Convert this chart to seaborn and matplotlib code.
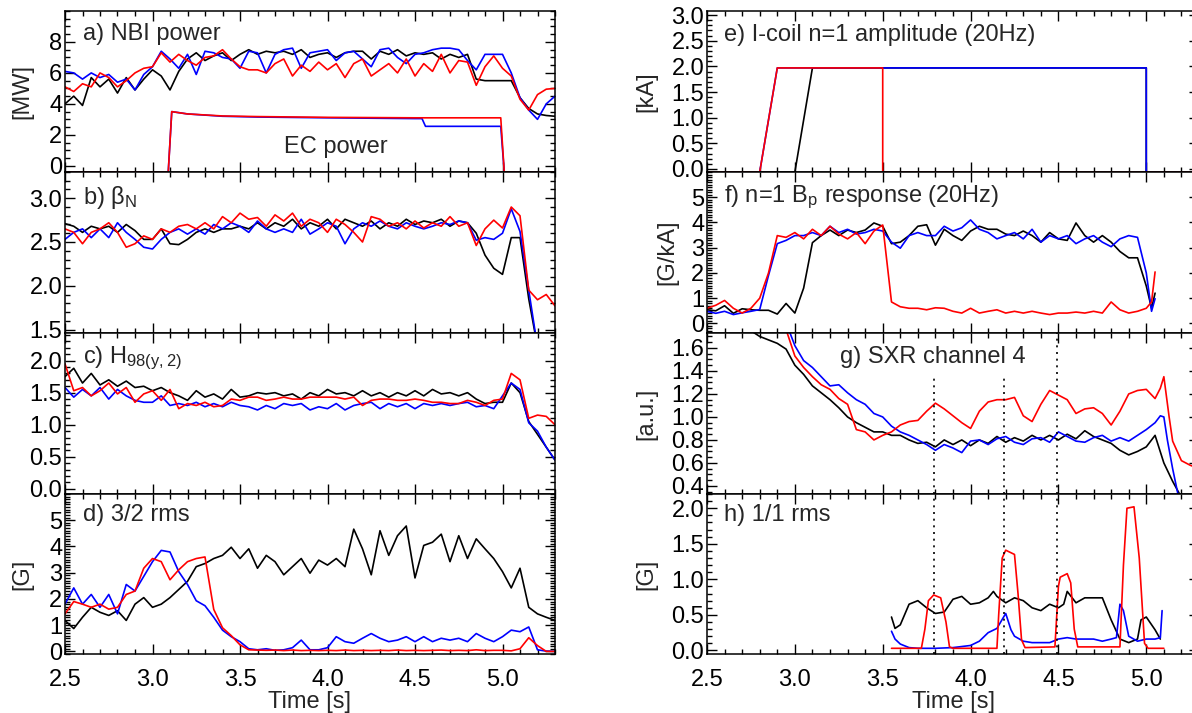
import matplotlib
matplotlib.use('Agg')
import matplotlib.pyplot as plt
from matplotlib.ticker import MultipleLocator, FixedLocator
import seaborn as sns

# ---------------- data ----------------
# common 0.05 s time base
T = [2.50, 2.55, 2.60, 2.65, 2.70, 2.75, 2.80, 2.85, 2.90, 2.95,
     3.00, 3.05, 3.10, 3.15, 3.20, 3.25, 3.30, 3.35, 3.40, 3.45,
     3.50, 3.55, 3.60, 3.65, 3.70, 3.75, 3.80, 3.85, 3.90, 3.95,
     4.00, 4.05, 4.10, 4.15, 4.20, 4.25, 4.30, 4.35, 4.40, 4.45,
     4.50, 4.55, 4.60, 4.65, 4.70, 4.75, 4.80, 4.85, 4.90, 4.95,
     5.00, 5.05, 5.10, 5.15, 5.20, 5.25, 5.30]

# a) NBI power [MW]
nbi_black = [4.0, 4.5, 3.9, 5.7, 5.1, 5.6, 4.7, 5.7, 4.9, 5.6,
             6.2, 5.8, 4.9, 6.1, 6.9, 7.3, 6.8, 7.1, 7.3, 6.8,
             7.2, 7.5, 7.2, 7.4, 7.3, 7.4, 7.2, 7.5, 7.0, 7.2,
             7.3, 7.0, 7.3, 7.4, 7.4, 6.9, 7.4, 7.2, 7.5, 7.1,
             7.3, 7.2, 7.3, 6.9, 7.2, 7.0, 7.2, 5.6, 5.5, 5.5,
             5.5, 5.5, 4.4, 3.7, 3.35, 3.25, 3.2]
nbi_blue = [6.1, 6.0, 5.6, 6.0, 5.7, 5.9, 5.4, 5.6, 4.9, 5.9,
            6.4, 7.4, 6.9, 6.3, 7.2, 5.9, 7.4, 7.3, 7.0, 6.9,
            6.3, 7.4, 7.3, 6.0, 7.2, 7.5, 7.6, 6.3, 7.3, 7.4,
            7.5, 6.8, 7.3, 7.4, 6.9, 6.4, 7.5, 7.6, 7.0, 6.6,
            7.2, 7.3, 7.5, 7.6, 7.6, 7.5, 6.8, 6.2, 7.2, 7.2,
            7.2, 6.0, 4.4, 3.6, 3.0, 4.0, 4.5]
nbi_red = [5.1, 4.8, 5.3, 5.1, 6.0, 5.7, 5.1, 5.5, 6.0, 6.3,
           6.4, 7.3, 6.7, 7.2, 6.8, 6.5, 7.0, 7.1, 7.5, 6.9,
           6.4, 6.2, 6.2, 6.0, 6.6, 6.9, 5.8, 6.5, 6.1, 6.7,
           6.2, 6.6, 5.7, 6.6, 6.9, 5.8, 6.2, 6.6, 6.0, 6.9,
           5.8, 6.6, 6.1, 7.2, 6.0, 6.8, 6.7, 5.2, 6.4, 7.1,
           6.3, 5.8, 4.3, 3.6, 4.6, 4.95, 5.0]

# EC power [MW] (off level sits on the bottom of the axis)
ec_red_t = [2.5, 3.09, 3.11, 3.2, 3.4, 3.6, 4.0, 4.5, 4.99, 5.01, 5.3]
ec_red = [-0.4, -0.4, 3.5, 3.35, 3.22, 3.18, 3.13, 3.1, 3.1, -0.4, -0.4]
ec_blue_t = [2.5, 3.09, 3.11, 3.2, 3.4, 3.6, 4.0, 4.5, 4.54, 4.56, 4.99, 5.01, 5.3]
ec_blue = [-0.4, -0.4, 3.5, 3.35, 3.2, 3.15, 3.1, 3.05, 3.05, 2.55, 2.55, -0.4, -0.4]

# b) beta_N
beta_black = [2.71, 2.68, 2.61, 2.68, 2.65, 2.68, 2.61, 2.70, 2.63, 2.53,
              2.53, 2.65, 2.48, 2.47, 2.53, 2.61, 2.65, 2.61, 2.65, 2.65,
              2.68, 2.65, 2.72, 2.65, 2.72, 2.68, 2.76, 2.65, 2.72, 2.68,
              2.76, 2.65, 2.76, 2.72, 2.68, 2.74, 2.65, 2.72, 2.68, 2.76,
              2.70, 2.74, 2.72, 2.76, 2.68, 2.74, 2.72, 2.60, 2.35, 2.20,
              2.13, 2.55, 2.55, 1.85, 1.30, 1.00, 0.80]
beta_blue = [2.53, 2.61, 2.65, 2.55, 2.65, 2.55, 2.72, 2.61, 2.53, 2.44,
             2.42, 2.53, 2.61, 2.65, 2.59, 2.65, 2.59, 2.70, 2.65, 2.72,
             2.68, 2.61, 2.74, 2.65, 2.61, 2.65, 2.61, 2.76, 2.59, 2.65,
             2.72, 2.68, 2.48, 2.65, 2.72, 2.68, 2.74, 2.68, 2.65, 2.72,
             2.68, 2.65, 2.68, 2.72, 2.70, 2.74, 2.72, 2.52, 2.55, 2.53,
             2.60, 2.88, 2.62, 1.95, 1.30, 1.00, 0.80]
beta_red = [2.65, 2.61, 2.48, 2.61, 2.65, 2.72, 2.61, 2.44, 2.48, 2.57,
            2.53, 2.65, 2.61, 2.68, 2.70, 2.65, 2.72, 2.65, 2.79, 2.72,
            2.83, 2.76, 2.78, 2.68, 2.81, 2.74, 2.83, 2.68, 2.76, 2.72,
            2.61, 2.76, 2.70, 2.61, 2.50, 2.79, 2.76, 2.68, 2.72, 2.65,
            2.74, 2.66, 2.72, 2.68, 2.79, 2.68, 2.72, 2.46, 2.65, 2.75,
            2.66, 2.90, 2.80, 1.95, 1.84, 1.90, 1.77]

# c) H98(y,2)
h98_black = [1.75, 1.88, 1.65, 1.80, 1.62, 1.70, 1.60, 1.68, 1.58, 1.60,
             1.53, 1.58, 1.50, 1.45, 1.38, 1.53, 1.43, 1.48, 1.40, 1.55,
             1.43, 1.45, 1.50, 1.48, 1.50, 1.45, 1.48, 1.40, 1.50, 1.45,
             1.55, 1.48, 1.50, 1.45, 1.53, 1.45, 1.50, 1.43, 1.50, 1.45,
             1.53, 1.45, 1.55, 1.48, 1.50, 1.45, 1.50, 1.40, 1.33, 1.35,
             1.35, 1.65, 1.50, 1.05, 0.85, 0.65, 0.45]
h98_blue = [1.58, 1.43, 1.55, 1.45, 1.58, 1.40, 1.55, 1.45, 1.38, 1.35,
            1.35, 1.45, 1.30, 1.33, 1.30, 1.35, 1.28, 1.33, 1.28, 1.35,
            1.30, 1.28, 1.23, 1.30, 1.25, 1.33, 1.30, 1.33, 1.23, 1.28,
            1.25, 1.33, 1.23, 1.30, 1.33, 1.35, 1.25, 1.33, 1.28, 1.33,
            1.25, 1.33, 1.30, 1.33, 1.30, 1.33, 1.35, 1.28, 1.30, 1.25,
            1.45, 1.65, 1.55, 1.03, 0.90, 0.65, 0.45]
h98_red = [1.95, 1.53, 1.58, 1.45, 1.53, 1.65, 1.48, 1.58, 1.35, 1.48,
           1.53, 1.38, 1.55, 1.25, 1.33, 1.30, 1.35, 1.28, 1.30, 1.40,
           1.38, 1.43, 1.43, 1.38, 1.40, 1.43, 1.40, 1.40, 1.43, 1.43,
           1.43, 1.43, 1.40, 1.43, 1.30, 1.38, 1.40, 1.40, 1.38, 1.38,
           1.40, 1.38, 1.35, 1.35, 1.33, 1.33, 1.38, 1.35, 1.30, 1.38,
           1.40, 1.80, 1.70, 1.10, 1.15, 1.13, 1.00]

# d) 3/2 rms [G]
rms32_black = [1.18, 0.87, 1.30, 1.68, 1.49, 1.37, 1.55, 1.18, 1.80, 2.05,
               1.68, 1.80, 2.05, 2.36, 2.67, 3.23, 3.35, 3.54, 3.66, 3.97,
               3.54, 3.91, 3.17, 3.66, 3.42, 2.92, 3.23, 3.54, 2.98, 3.48,
               3.29, 3.54, 3.23, 4.66, 3.91, 2.92, 4.60, 3.66, 4.41, 4.78,
               2.80, 4.04, 4.16, 4.47, 3.42, 4.41, 3.54, 4.29, 3.91, 3.54,
               3.04, 2.42, 3.17, 1.68, 1.43, 1.30, 1.18]
rms32_blue = [1.80, 2.42, 1.80, 2.17, 1.68, 2.17, 1.43, 2.55, 2.30, 2.86,
              3.42, 3.85, 3.79, 3.04, 2.55, 1.93, 1.74, 1.30, 0.81, 0.56,
              0.37, 0.10, 0.06, 0.10, 0.04, 0.06, 0.14, 0.43, 0.06, 0.06,
              0.14, 0.56, 0.37, 0.31, 0.50, 0.68, 0.50, 0.37, 0.43, 0.56,
              0.37, 0.56, 0.37, 0.50, 0.43, 0.50, 0.37, 0.68, 0.50, 0.37,
              0.56, 0.81, 0.75, 0.93, 0.06, 0.01, 0.00]
rms32_red = [1.43, 1.90, 1.80, 1.68, 1.80, 1.61, 1.68, 2.17, 2.30, 3.17,
             3.54, 3.42, 2.73, 3.11, 3.42, 3.54, 3.60, 1.60, 0.90, 0.60,
             0.25, 0.06, 0.05, 0.04, 0.05, 0.03, 0.05, 0.03, 0.04, 0.03,
             0.04, 0.03, 0.05, 0.03, 0.04, 0.03, 0.04, 0.03, 0.05, 0.03,
             0.04, 0.03, 0.04, 0.05, 0.03, 0.04, 0.03, 0.06, 0.03, 0.04,
             0.04, 0.02, 0.10, 0.52, 0.22, 0.00, 0.00]

# e) I-coil n=1 amplitude [kA] (off level sits on the bottom of the axis)
icoil_black_t = [2.5, 3.0, 3.1, 5.0, 5.0, 5.3]
icoil_black = [-0.06, -0.06, 1.97, 1.97, -0.06, -0.06]
icoil_blue_t = [2.5, 2.8, 2.9, 5.0, 5.0, 5.3]
icoil_blue = [-0.06, -0.06, 1.97, 1.97, -0.06, -0.06]
icoil_red_t = [2.5, 2.8, 2.9, 3.5, 3.5, 5.3]
icoil_red = [-0.06, -0.06, 1.97, 1.97, -0.06, -0.06]

# f) n=1 Bp response [G/kA]
T_F = T[:51] + [5.03, 5.05]
bp_black = [0.54, 0.50, 0.70, 0.40, 0.58, 0.54, 0.52, 0.52, 0.37, 0.79,
            0.41, 1.40, 3.20, 3.48, 3.70, 3.48, 3.70, 3.60, 3.70, 3.98,
            3.85, 3.16, 3.22, 3.48, 3.85, 3.91, 3.10, 3.73, 3.48, 3.29,
            3.66, 3.85, 3.73, 3.73, 3.54, 3.48, 3.66, 3.48, 3.22, 3.60,
            3.35, 3.29, 3.98, 3.48, 3.22, 3.48, 3.22, 2.85, 2.60, 2.60,
            1.48, 0.60, 1.20]
bp_blue = [0.48, 0.40, 0.48, 0.35, 0.42, 0.48, 0.55, 1.90, 3.16, 3.29,
           3.48, 3.48, 3.60, 3.48, 3.85, 3.60, 3.73, 3.54, 3.60, 3.73,
           3.66, 3.22, 2.98, 3.48, 3.60, 3.48, 3.48, 3.85, 3.66, 3.79,
           4.10, 3.73, 3.60, 3.35, 3.48, 3.60, 3.35, 3.73, 3.22, 3.48,
           3.35, 3.48, 3.16, 3.35, 3.48, 3.22, 3.04, 3.35, 3.48, 3.41,
           2.00, 0.48, 0.98]
bp_red = [0.60, 0.72, 0.91, 0.60, 0.41, 0.60, 1.00, 2.00, 3.48, 3.41,
          3.60, 3.35, 3.73, 3.48, 3.85, 3.54, 3.35, 3.60, 3.16, 3.66,
          3.90, 0.85, 0.66, 0.60, 0.60, 0.54, 0.62, 0.60, 0.48, 0.41,
          0.60, 0.41, 0.48, 0.54, 0.41, 0.48, 0.41, 0.48, 0.41, 0.35,
          0.41, 0.41, 0.45, 0.41, 0.48, 0.41, 0.85, 0.54, 0.41, 0.48,
          0.60, 0.85, 2.04]

# g) SXR channel 4 [a.u.]
sxr_black_t = T[5:55]
sxr_black = [1.75, 1.70, 1.67, 1.64, 1.59,
             1.45, 1.37, 1.27, 1.21, 1.15, 1.08, 1.00, 0.95, 0.91, 0.87,
             0.87, 0.84, 0.84, 0.80, 0.77, 0.78, 0.74, 0.80, 0.76, 0.80,
             0.75, 0.80, 0.77, 0.83, 0.78, 0.82, 0.79, 0.84, 0.80, 0.84,
             0.80, 0.85, 0.81, 0.88, 0.83, 0.80, 0.77, 0.71, 0.67, 0.70,
             0.74, 0.84, 0.60, 0.44, 0.30]
sxr_blue_t = [2.97] + T[10:52] + [5.08, 5.10, 5.12, 5.15, 5.18]
sxr_blue = [1.74,
            1.62, 1.49, 1.43, 1.35, 1.27, 1.28, 1.21, 1.15, 1.11, 1.03,
            1.00, 0.92, 0.87, 0.84, 0.80, 0.76, 0.71, 0.76, 0.73, 0.69,
            0.79, 0.80, 0.76, 0.81, 0.83, 0.78, 0.76, 0.81, 0.82, 0.78,
            0.87, 0.83, 0.79, 0.78, 0.82, 0.84, 0.79, 0.82, 0.79, 0.84,
            0.89, 0.95,
            1.01, 1.00, 0.80, 0.55, 0.33]
sxr_red_t = T[9:51] + [5.05, 5.08, 5.10, 5.13, 5.15, 5.20, 5.25, 5.30]
sxr_red = [1.76,
           1.53, 1.43, 1.35, 1.28, 1.24, 1.16, 1.11, 0.89, 0.87, 0.80,
           0.84, 0.87, 0.93, 0.96, 0.97, 1.05, 1.12, 1.07, 1.01, 0.95,
           0.90, 1.05, 1.13, 1.15, 1.15, 1.17, 1.01, 0.96, 1.11, 1.23,
           1.19, 1.15, 1.03, 1.07, 1.08, 1.03, 0.93, 1.05, 1.20, 1.23,
           1.24,
           1.16, 1.25, 1.35, 1.00, 0.79, 0.62, 0.58, 0.55]

# h) 1/1 rms [G]
rms11_black_t = [3.55, 3.57, 3.60, 3.65, 3.70, 3.75, 3.80, 3.85, 3.90, 3.95,
                 4.00, 4.05, 4.10, 4.13, 4.15, 4.20, 4.25, 4.30, 4.35, 4.40,
                 4.45, 4.50, 4.53, 4.55, 4.60, 4.65, 4.70, 4.75, 4.80, 4.85,
                 4.90, 4.95, 4.97, 5.00, 5.05, 5.08]
rms11_black = [0.47, 0.31, 0.36, 0.65, 0.70, 0.60, 0.52, 0.54, 0.72, 0.76,
               0.65, 0.67, 0.74, 0.83, 0.76, 0.67, 0.74, 0.70, 0.60, 0.56,
               0.65, 0.60, 0.65, 0.83, 0.67, 0.74, 0.74, 0.74, 0.43, 0.16,
               0.11, 0.16, 0.43, 0.47, 0.29, 0.16]
rms11_blue_t = [3.55, 3.57, 3.60, 3.65, 3.70, 3.80, 3.90, 4.00, 4.05, 4.10,
                4.15, 4.20, 4.23, 4.25, 4.30, 4.35, 4.40, 4.45, 4.50, 4.55,
                4.60, 4.65, 4.70, 4.75, 4.80, 4.83, 4.85, 4.87, 4.90, 4.95,
                5.00, 5.05, 5.08, 5.09]
rms11_blue = [0.27, 0.16, 0.09, 0.04, 0.03, 0.03, 0.04, 0.07, 0.13, 0.25,
              0.31, 0.52, 0.29, 0.20, 0.13, 0.11, 0.11, 0.11, 0.16, 0.18,
              0.16, 0.16, 0.16, 0.13, 0.16, 0.18, 0.65, 0.56, 0.20, 0.13,
              0.16, 0.16, 0.18, 0.56]
rms11_red_t = [3.55, 3.72, 3.74, 3.76, 3.79, 3.83, 3.86, 3.88, 3.90, 4.15,
               4.16, 4.18, 4.20, 4.25, 4.27, 4.29, 4.31, 4.48, 4.50, 4.51,
               4.55, 4.57, 4.59, 4.61, 4.85, 4.87, 4.89, 4.93, 4.96, 4.99,
               5.01, 5.10]
rms11_red = [0.03, 0.03, 0.30, 0.70, 0.78, 0.74, 0.40, 0.05, 0.03, 0.03,
             0.50, 1.30, 1.41, 1.35, 0.80, 0.15, 0.04, 0.05, 0.90, 1.03,
             1.08, 0.95, 0.30, 0.05, 0.05, 1.20, 2.00, 2.02, 1.30, 0.10,
             0.03, 0.03]

# times marked with dotted lines in g) and h)
event_times = [3.79, 4.19, 4.49]

# ---------------- style ----------------
sns.set_theme(style='ticks')
plt.rcParams['font.family'] = ['Liberation Sans', 'DejaVu Sans']
plt.rcParams.update({
    'font.size': 17,
    'axes.linewidth': 1.1,
    'mathtext.fontset': 'custom',
    'mathtext.rm': 'Liberation Sans',
    'mathtext.it': 'Liberation Sans:italic',
    'mathtext.bf': 'Liberation Sans:bold',
})
FS = 17

W, H = 1192, 713
fig = plt.figure(figsize=(W / 100, H / 100), dpi=100)


def add_panel(left, width, top, height):
    return fig.add_axes([left / W, (H - top - height) / H, width / W, height / H])


tops = [11, 172, 333, 494]
heights = [161, 161, 161, 160]
axl = [add_panel(65, 490, t, h) for t, h in zip(tops, heights)]
axr = [add_panel(707, 492, t, h) for t, h in zip(tops, heights)]


def draw(ax, t, v, color):
    sns.lineplot(x=t, y=v, ax=ax, color=color, linewidth=1.2,
                 estimator=None, sort=False, legend=False)


def style(ax, ylim, yticks, ylabels, yminor, bottom=False):
    ax.set_xlim(2.5, 5.3)
    ax.set_ylim(*ylim)
    ax.xaxis.set_major_locator(MultipleLocator(0.5))
    ax.xaxis.set_minor_locator(MultipleLocator(0.1))
    ax.yaxis.set_major_locator(FixedLocator(yticks))
    ax.yaxis.set_minor_locator(MultipleLocator(yminor))
    ax.set_yticklabels(ylabels)
    ax.tick_params(which='both', direction='in', top=True, right=True,
                   width=1.0, colors='black', labelsize=FS)
    ax.tick_params(which='major', length=7)
    ax.tick_params(which='minor', length=3.5)
    ax.tick_params(axis='y', pad=2)
    ax.tick_params(axis='x', pad=11, labelbottom=bottom)
    ax.set_xlabel('')
    ax.set_ylabel('')
    for sp in ax.spines.values():
        sp.set_color('black')
    if bottom:
        ax.set_xticks([2.5, 3.0, 3.5, 4.0, 4.5, 5.0])
        ax.set_xticklabels(['2.5', '3.0', '3.5', '4.0', '4.5', '5.0'])
        ax.set_xlabel('Time [s]', fontsize=FS, labelpad=0)


def label(ax, x, y, s):
    ax.text(x, y, s, transform=ax.transAxes, fontsize=FS, ha='left', va='center')


def ylab(ax, s, xfrac):
    ax.set_ylabel(s, fontsize=FS)
    ax.yaxis.set_label_coords(xfrac, 0.5)


# a) NBI power
ax = axl[0]
draw(ax, T, nbi_black, 'black')
draw(ax, T, nbi_blue, 'blue')
draw(ax, T, nbi_red, 'red')
draw(ax, ec_blue_t, ec_blue, 'blue')
draw(ax, ec_red_t, ec_red, 'red')
style(ax, (-0.4, 10), [0, 2, 4, 6, 8], ['0', '2', '4', '6', '8'], 0.5)
label(ax, 0.036, 0.86, 'a) NBI power')
ax.text(4.05, 1.2, 'EC power', fontsize=FS, ha='center', va='center')
ylab(ax, '[MW]', -0.065)

# b) beta_N
ax = axl[1]
draw(ax, T, beta_black, 'black')
draw(ax, T, beta_blue, 'blue')
draw(ax, T, beta_red, 'red')
style(ax, (1.46, 3.3), [1.5, 2.0, 2.5, 3.0], ['1.5', '2.0', '2.5', '3.0'], 0.1)
label(ax, 0.036, 0.84, r'b) β$_{\mathrm{N}}$')

# c) H98
ax = axl[2]
draw(ax, T, h98_black, 'black')
draw(ax, T, h98_blue, 'blue')
draw(ax, T, h98_red, 'red')
style(ax, (-0.08, 2.43), [0, 0.5, 1.0, 1.5, 2.0],
      ['0.0', '0.5', '1.0', '1.5', '2.0'], 0.1)
label(ax, 0.036, 0.845, r'c) H$_{\mathrm{98(y,2)}}$')

# d) 3/2 rms
ax = axl[3]
draw(ax, T, rms32_black, 'black')
draw(ax, T, rms32_blue, 'blue')
draw(ax, T, rms32_red, 'red')
style(ax, (-0.1, 6), [0, 1, 2, 3, 4, 5], ['0', '1', '2', '3', '4', '5'], 0.1,
      bottom=True)
label(ax, 0.036, 0.87, 'd) 3/2 rms')
ylab(ax, '[G]', -0.065)

# e) I-coil
ax = axr[0]
draw(ax, icoil_black_t, icoil_black, 'black')
draw(ax, icoil_blue_t, icoil_blue, 'blue')
draw(ax, icoil_red_t, icoil_red, 'red')
style(ax, (-0.06, 3.08), [0, 0.5, 1.0, 1.5, 2.0, 2.5, 3.0],
      ['0.0', '0.5', '1.0', '1.5', '2.0', '2.5', '3.0'], 0.1)
label(ax, 0.035, 0.85, 'e) I-coil n=1 amplitude (20Hz)')
ylab(ax, '[kA]', -0.1)

# f) Bp response
ax = axr[1]
draw(ax, T_F, bp_black, 'black')
draw(ax, T_F, bp_blue, 'blue')
draw(ax, T_F, bp_red, 'red')
style(ax, (-0.38, 6), [0, 1, 2, 3, 4, 5], ['0', '1', '2', '3', '4', '5'], 0.1)
label(ax, 0.035, 0.845, r'f) n=1 B$_{\mathrm{p}}$ response (20Hz)')
ylab(ax, '[G/kA]', -0.058)

# g) SXR
ax = axr[2]
draw(ax, sxr_black_t, sxr_black, 'black')
draw(ax, sxr_blue_t, sxr_blue, 'blue')
draw(ax, sxr_red_t, sxr_red, 'red')
style(ax, (0.33, 1.73), [0.4, 0.6, 0.8, 1.0, 1.2, 1.4, 1.6],
      ['0.4', '0.6', '0.8', '1.0', '1.2', '1.4', '1.6'], 0.05)
for i, te in enumerate(event_times):
    top = 1.0 if i == 2 else 0.74
    ax.axvline(te, ymin=0, ymax=top, color='black', lw=1.2, ls=(0, (1.2, 2.8)))
label(ax, 0.27, 0.85, 'g) SXR channel 4')
ylab(ax, '[a.u.]', -0.1)

# h) 1/1 rms
ax = axr[3]
draw(ax, rms11_black_t, rms11_black, 'black')
draw(ax, rms11_blue_t, rms11_blue, 'blue')
draw(ax, rms11_red_t, rms11_red, 'red')
style(ax, (-0.05, 2.2), [0, 0.5, 1.0, 1.5, 2.0],
      ['0.0', '0.5', '1.0', '1.5', '2.0'], 0.1, bottom=True)
for te in event_times:
    ax.axvline(te, color='black', lw=1.2, ls=(0, (1.2, 2.8)))
label(ax, 0.035, 0.87, 'h) 1/1 rms')
ylab(ax, '[G]', -0.1)

fig.savefig('out.png', dpi=100)
